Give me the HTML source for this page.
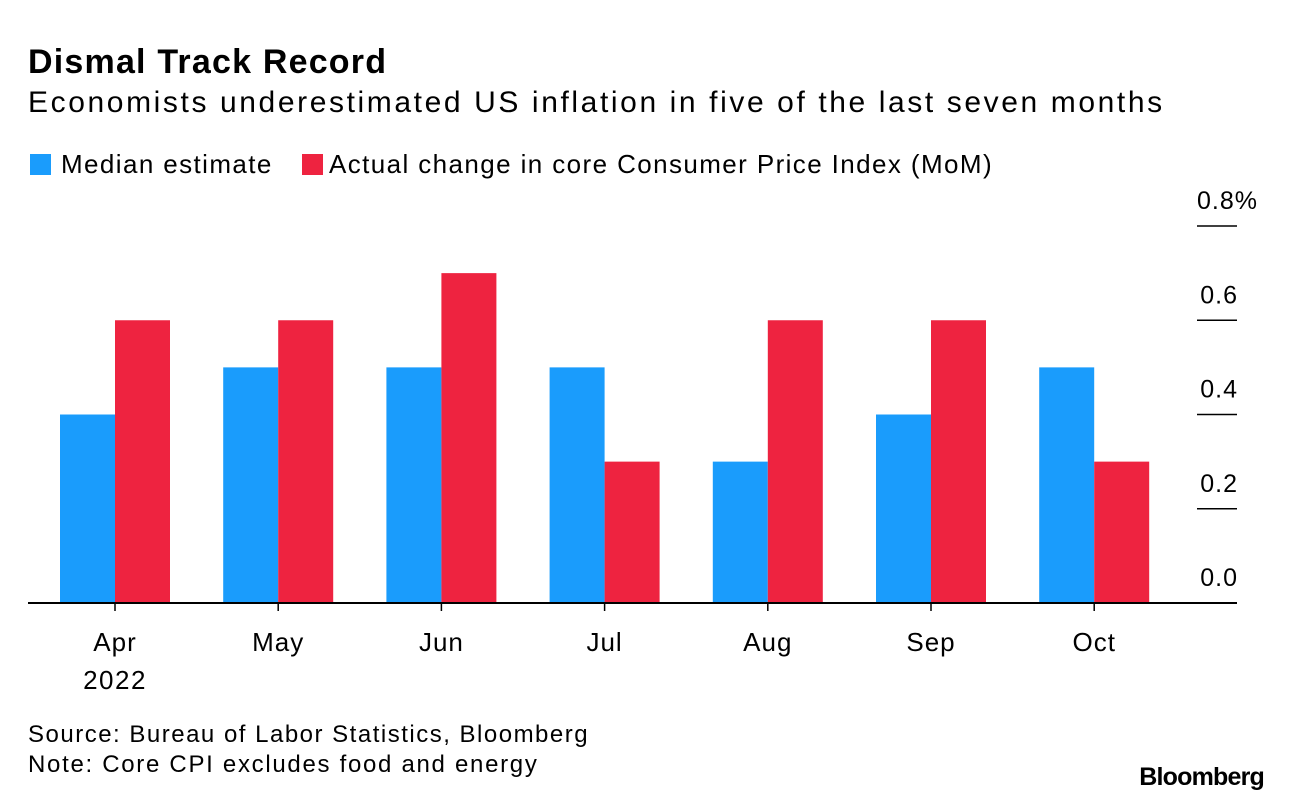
<!DOCTYPE html>
<html><head><meta charset="utf-8"><style>
body{margin:0;background:#fff;font-family:"Liberation Sans",sans-serif;color:#000}
#wrap{position:relative;width:1292px;height:804px;overflow:hidden}
.t{position:absolute;white-space:nowrap}
</style></head><body>
<div id="wrap">
<div class="t" style="left:28px;top:43px;font-size:34px;font-weight:bold;letter-spacing:1.2px">Dismal Track Record</div>
<div class="t" style="left:28px;top:86px;font-size:30px;letter-spacing:2.6px">Economists underestimated US inflation in five of the last seven months</div>
<div class="t" style="left:30px;top:149px;font-size:26px;letter-spacing:1.4px"><span style="display:inline-block;width:21px;height:21px;background:#1a9cfc;vertical-align:-2px;margin-right:10px"></span>Median estimate</div>
<div class="t" style="left:302px;top:149px;font-size:26px;letter-spacing:1.4px"><span style="display:inline-block;width:21px;height:21px;background:#ee2340;vertical-align:-2px;margin-right:6px"></span>Actual change in core Consumer Price Index (MoM)</div>
<svg id="plot" width="1292" height="804" style="position:absolute;left:0;top:0"></svg>
<div class="t" style="left:28px;top:721px;font-size:24px;letter-spacing:1.5px">Source: Bureau of Labor Statistics, Bloomberg</div>
<div class="t" style="left:28px;top:751px;font-size:24px;letter-spacing:1.7px">Note: Core CPI excludes food and energy</div>
<div class="t" style="right:28px;top:763px;font-size:25px;font-weight:bold;letter-spacing:-0.8px">Bloomberg</div>
</div>
<script>
const categories=["Apr","May","Jun","Jul","Aug","Sep","Oct"];
const medianEstimate=[0.4,0.5,0.5,0.5,0.3,0.4,0.5];
const actualChange=[0.6,0.6,0.7,0.3,0.6,0.6,0.3];
const yTicks=[0,0.2,0.4,0.6,0.8];
const yTickLabels=["0.0","0.2","0.4","0.6","0.8%"];
const NS="http://www.w3.org/2000/svg";
const svg=document.getElementById('plot');
const y=v=>603-v*471.25;
const x=i=>115+i*163.2;
const bw=55;
function mk(t,a){const e=document.createElementNS(NS,t);for(const k in a)e.setAttribute(k,a[k]);svg.appendChild(e);return e;}
categories.forEach((c,i)=>{
 const b=mk('rect',{x:x(i)-bw,y:y(medianEstimate[i]),width:bw,height:y(0)-y(medianEstimate[i]),fill:'#1a9cfc'});
 
 
 const r=mk('rect',{x:x(i),y:y(actualChange[i]),width:bw,height:y(0)-y(actualChange[i]),fill:'#ee2340'});
 
 
 const tk=mk('line',{x1:x(i),x2:x(i),y1:603,y2:611,stroke:'#000','stroke-width':1.5});
 
 
 const l=mk('text',{x:x(i),y:651,'text-anchor':'middle','font-size':26,'letter-spacing':1,'font-family':'Liberation Sans, sans-serif'});
 l.textContent=c;
 
 
});
const yr=mk('text',{x:x(0),y:689,'text-anchor':'middle','font-size':26,'letter-spacing':1.5,'font-family':'Liberation Sans, sans-serif'});
yr.textContent='2022';


yTicks.forEach((v,i)=>{
 if(v>0){const g=mk('line',{x1:1197,x2:1237,y1:y(v),y2:y(v),stroke:'#000','stroke-width':1.5});
 
 }
 const t=mk('text',{x:1238,y:y(v)-17,'text-anchor':'end','font-size':25,'letter-spacing':1,'font-family':'Liberation Sans, sans-serif'});
 t.textContent=yTickLabels[i];
 if(i===yTicks.length-1){t.setAttribute('text-anchor','start');t.setAttribute('x',1197);}
 
 
});
const ax=mk('line',{x1:28,x2:1237,y1:603,y2:603,stroke:'#000','stroke-width':2});


</script>
</body></html>
